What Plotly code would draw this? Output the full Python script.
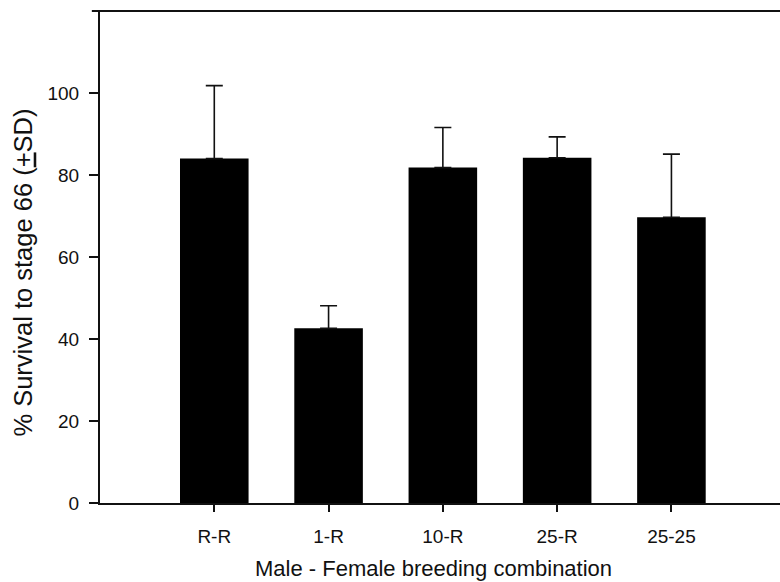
import plotly.graph_objects as go

# Male-female breeding combinations and survival to stage 66
combinations = ["R-R", "1-R", "10-R", "25-R", "25-25"]
survival_pct = [84.0, 42.6, 81.8, 84.2, 69.7]
survival_sd = [17.8, 5.5, 9.8, 5.1, 15.4]

FONT = "Liberation Sans, Arial, sans-serif"
INK = "#111111"

fig = go.Figure(
    go.Bar(
        x=combinations,
        y=survival_pct,
        width=0.6,
        marker=dict(color="#000000", line=dict(width=0)),
        error_y=dict(
            type="data",
            symmetric=False,
            array=survival_sd,
            arrayminus=[0] * len(survival_sd),
            color=INK,
            thickness=1.6,
            width=8.5,
        ),
    )
)

fig.update_layout(
    width=780,
    height=582,
    margin=dict(l=100, r=0, t=11, b=79),
    paper_bgcolor="white",
    plot_bgcolor="white",
    showlegend=False,
    font=dict(family=FONT, size=19, color=INK),
    xaxis=dict(
        type="category",
        range=[-1, 4.95],
        showline=True,
        linecolor=INK,
        linewidth=2,
        ticks="outside",
        ticklen=7,
        tickwidth=1.5,
        tickcolor=INK,
        showgrid=False,
        zeroline=False,
        tickfont=dict(size=19),
        ticklabelstandoff=8,
    ),
    yaxis=dict(
        range=[0, 120],
        tickvals=[0, 20, 40, 60, 80, 100],
        showline=True,
        linecolor=INK,
        linewidth=2,
        ticks="outside",
        ticklen=9,
        tickwidth=1.5,
        tickcolor=INK,
        showgrid=False,
        zeroline=False,
        tickfont=dict(size=19),
        ticklabelstandoff=6,
    ),
    shapes=[
        # top border of the frame, running slightly past the left axis
        dict(
            type="line", xref="paper", yref="paper",
            x0=-0.012, x1=1.0, y0=1.0, y1=1.0,
            line=dict(color=INK, width=2),
        )
    ],
    annotations=[
        dict(
            text="Male - Female breeding combination",
            xref="paper", yref="paper",
            x=0.49, y=-0.134,
            xanchor="center", yanchor="middle",
            showarrow=False,
            font=dict(size=22, family=FONT, color=INK),
        ),
        dict(
            text="% Survival to stage 66 (<u>+</u>SD)",
            xref="paper", yref="paper",
            x=-0.113, y=0.4686,
            xanchor="center", yanchor="middle",
            textangle=-90,
            showarrow=False,
            font=dict(size=25.5, family=FONT, color=INK),
        ),
    ],
)

fig.write_html("out.html")
